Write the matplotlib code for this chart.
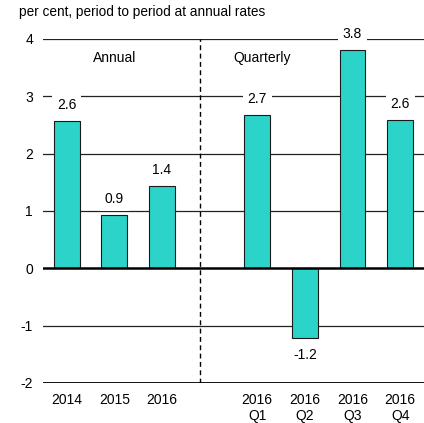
import numpy as np
import matplotlib.pyplot as plt

plt.rcParams['font.family'] = ['Liberation Sans', 'DejaVu Sans']
plt.rcParams['axes.unicode_minus'] = False

# donnees
labels = ['2014', '2015', '2016', '', '2016\nQ1', '2016\nQ2', '2016\nQ3', '2016\nQ4']
values = [2.57, 0.93, 1.43, np.nan, 2.68, -1.22, 3.80, 2.58]
texts = ['2.6', '0.9', '1.4', '', '2.7', '-1.2', '3.8', '2.6']

fig = plt.figure(figsize=(4.24, 4.23), dpi=100)
ax = fig.add_axes([0.101, 0.0946, 0.899, 0.8134])

x = np.arange(len(labels))

# lignes horizontales
for y in [-1, 1, 2, 3, 4]:
    ax.axhline(y, color='#222222', lw=0.9, zorder=1)
ax.axhline(0, color='black', lw=1.8, zorder=3)
ax.axhline(-2, color='black', lw=1.3, zorder=3)

ax.bar(x, values, width=0.54, color='#2BD3C8', edgecolor='#1a1a1a', lw=0.8, zorder=2)

# etiquettes des barres
for xi, v, t in zip(x, values, texts):
    if t == '':
        continue
    yy = v + 0.28 if v > 0 else v - 0.3
    ax.text(xi, yy, t, ha='center', va='center', fontsize=10, zorder=4,
            bbox=dict(facecolor='white', edgecolor='none', pad=3.5))

# separateur
ax.plot([2.8, 2.8], [-2, 4], color='black', lw=1, ls=(0, (3.5, 2.5)), zorder=3)
ax.text(1.0, 3.66, 'Annual', ha='center', va='center', fontsize=10)
ax.text(4.1, 3.66, 'Quarterly', ha='center', va='center', fontsize=10)

ax.set_xlim(-0.5, 7.5)
ax.set_ylim(-2, 4)
ax.set_yticks([-2, -1, 0, 1, 2, 3, 4])
ax.set_xticks(x)
ax.set_xticklabels(labels)
ax.tick_params(length=0, labelsize=10)
ax.tick_params(axis='y', pad=7)
ax.tick_params(axis='x', pad=7)
for s in ax.spines.values():
    s.set_visible(False)

fig.text(0.045, 0.972, 'per cent, period to period at annual rates', fontsize=9.8,
         ha='left', va='center')

plt.savefig('out.png', dpi=100)
